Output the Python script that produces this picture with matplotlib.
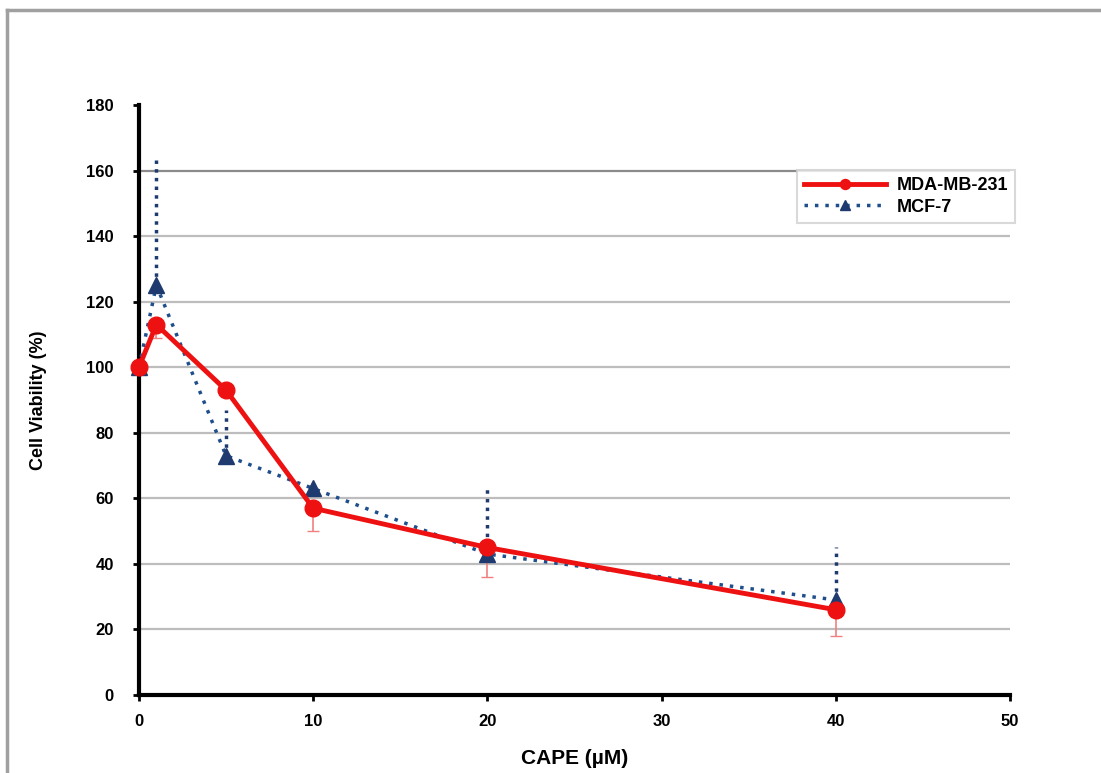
import matplotlib.pyplot as plt
from matplotlib.lines import Line2D

# data
cape = [0, 1, 5, 10, 20, 40]
mda = [100, 113, 93, 57, 45, 26]
mda_err_lo = [0, 4, 0, 7, 9, 8]
mcf = [100, 125, 73, 63, 43, 29]
mcf_err_hi = [0, 39, 14, 0, 20, 16]

xticks = [0, 10, 20, 30, 40, 50]
yticks = [0, 20, 40, 60, 80, 100, 120, 140, 160, 180]

plt.rcParams['font.family'] = ['Liberation Sans', 'DejaVu Sans']
plt.rcParams['font.weight'] = 'bold'

fig = plt.figure(figsize=(11.01, 7.73), dpi=100)
ax = fig.add_axes([0.1262, 0.1009, 0.7911, 0.7633])

# outer frame of the original figure
fig.add_artist(Line2D([0.006, 0.006], [0.0, 0.987], color='#a0a0a0', lw=2.5))
fig.add_artist(Line2D([0.006, 1.0], [0.987, 0.987], color='#a0a0a0', lw=2.5))

for yv in yticks[1:-1]:
    ax.axhline(yv, color='#8a8a8a' if yv == 160 else '#bdbdbd', lw=1.6, zorder=0)

# error bars (one-sided)
ax.errorbar(cape, mda, yerr=[mda_err_lo, [0] * len(cape)], fmt='none',
            ecolor='#f08080', elinewidth=1.2, capsize=4, zorder=2, clip_on=False)
ax.errorbar(cape, mcf, yerr=[[0] * len(cape), mcf_err_hi], fmt='none',
            ecolor='#1f3a6e', elinewidth=2.5, capsize=0, zorder=2, clip_on=False)
eb = ax.containers[-1]
for lc in eb.lines[2]:
    lc.set_linestyle((0, (1, 1.5)))

ax.plot(cape, mcf, color='#1f4e8c', ls=(0, (1, 2)), lw=2.5, marker='^', ms=11,
        mfc='#1f3a6e', mec='#1f3a6e', label='MCF-7', zorder=3, clip_on=False)
ax.plot(cape, mda, color='#ee1111', ls='-', lw=3.5, marker='o', ms=12,
        mfc='#ee1111', mec='#ee1111', label='MDA-MB-231', zorder=4, clip_on=False)

ax.set_xlim(0, 50)
ax.set_ylim(0, 180)
ax.set_xticks(xticks)
ax.set_yticks(yticks)
ax.tick_params(axis='both', labelsize=12, width=2, length=4, direction='out')
ax.tick_params(axis='x', pad=10)
ax.tick_params(axis='y', pad=14)

for s in ['top', 'right']:
    ax.spines[s].set_visible(False)
for s in ['left', 'bottom']:
    ax.spines[s].set_linewidth(3)

ax.set_xlabel('CAPE (\u00b5M)', fontsize=15, fontweight='bold', labelpad=14)
ax.set_ylabel('Cell Viability (%)', fontsize=13, fontweight='bold', labelpad=28)

handles, labels = ax.get_legend_handles_labels()
leg = ax.legend(handles[::-1], labels[::-1], loc='upper right',
                bbox_to_anchor=(1.006, 0.89), fontsize=13, frameon=True,
                fancybox=False, edgecolor='#d0d0d0', markerscale=0.6,
                handlelength=4.5, borderpad=0.4, borderaxespad=0,
                handletextpad=0.6, labelspacing=0.25)
leg.get_frame().set_linewidth(1.5)

fig.savefig('out.png', dpi=100)
